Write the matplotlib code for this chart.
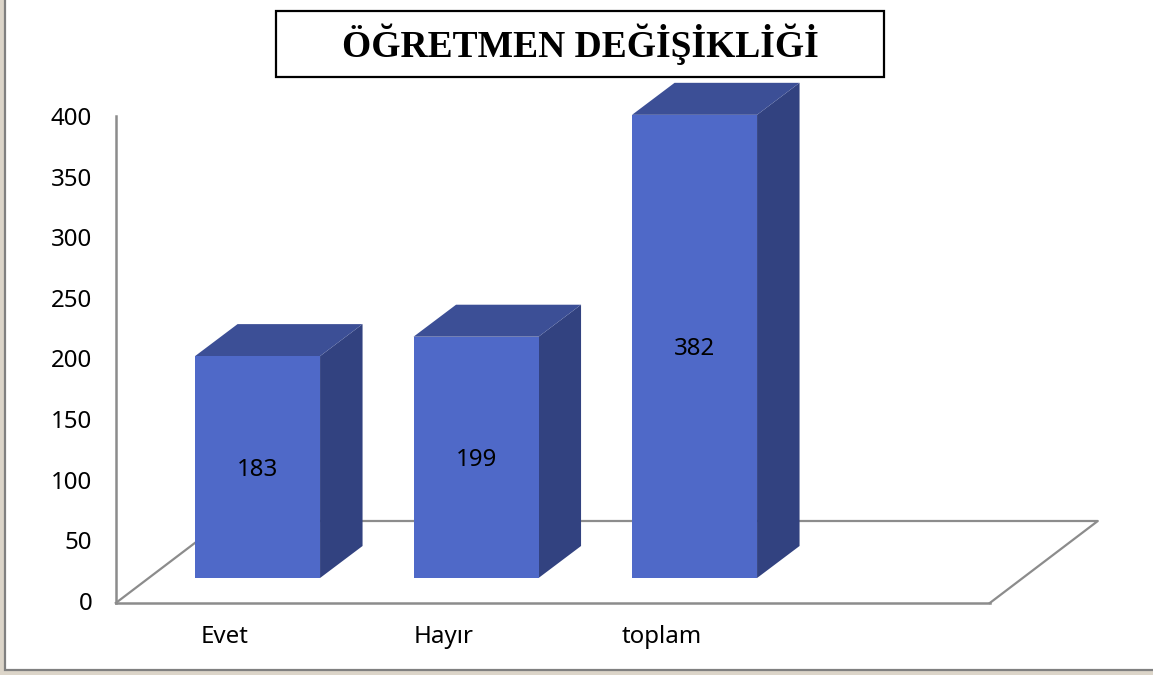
import matplotlib
matplotlib.use("Agg")
import matplotlib.pyplot as plt
from matplotlib.patches import Polygon, Rectangle

categories = ["Evet", "Hayır", "toplam"]
values = [183, 199, 382]
y_ticks = [0, 50, 100, 150, 200, 250, 300, 350, 400]
title = "ÖĞRETMEN DEĞİŞİKLİĞİ"

W, H = 1153, 675
GRAY = "#8c8c8c"
FRONT, SIDE, TOP = "#4f69c8", "#324280", "#3c4f96"

fig = plt.figure(figsize=(W / 100, H / 100), dpi=100, facecolor="#dcd5c9")
fig.add_artist(Rectangle((5 / W, 1 - 670 / H), 1.1, 1.1, transform=fig.transFigure,
                         facecolor="white", edgecolor="#808080", linewidth=1.6, zorder=-1))

L, R, T, B = 115.8, 989.8, 116, 603
SCALE = 1.2125  # pixels per value unit
ymin = -2 / SCALE
ax = fig.add_axes([L / W, 1 - B / H, (R - L) / W, (B - T) / H])
ax.set_xlim(-0.5, 3.5)
ax.set_ylim(ymin, 400)
ax.patch.set_alpha(0)
px_x = 4 / (R - L)
px_y = 1 / SCALE

for s in ("top", "right"):
    ax.spines[s].set_visible(False)
for s in ("left", "bottom"):
    ax.spines[s].set_color(GRAY)
    ax.spines[s].set_linewidth(1.8)

ax.set_yticks(y_ticks)
ax.set_xticks(range(len(categories)))
ax.set_xticklabels(categories)
ax.tick_params(axis="both", length=0, labelsize=17.3, labelcolor="black")
ax.tick_params(axis="y", pad=17)
ax.tick_params(axis="x", pad=16)
for lab in ax.get_xticklabels() + ax.get_yticklabels():
    lab.set_family("Noto Sans")

# floor
fx, fy = 108 * px_x, 82 * px_y
ax.plot([-0.5, -0.5 + fx, 3.5 + fx, 3.5], [ymin, ymin + fy, ymin + fy, ymin], color=GRAY, lw=1.6,
        clip_on=False, zorder=1, solid_joinstyle="round")

# bars
bw = 125 * px_x
dx, dy = 42.5 * px_x, 32 * px_y
base = 23 * px_y
off = 32.5 * px_x
for i, (v, c) in enumerate(zip(values, categories)):
    x0 = i + off - bw / 2
    x1 = x0 + bw
    y0 = base
    y1 = base + v
    ax.add_patch(Polygon([(x1, y0), (x1 + dx, y0 + dy), (x1 + dx, y1 + dy), (x1, y1)],
                         facecolor=SIDE, edgecolor="none", clip_on=False, zorder=3))
    ax.add_patch(Polygon([(x0, y1), (x1, y1), (x1 + dx, y1 + dy), (x0 + dx, y1 + dy)],
                         facecolor=TOP, edgecolor="none", clip_on=False, zorder=3))
    ax.add_patch(Rectangle((x0, y0), bw, v, facecolor=FRONT, edgecolor="none",
                           clip_on=False, zorder=4))
    ax.text(i + off, y0 + v / 2, str(v), ha="center", va="center_baseline", fontsize=17.3,
            family="Noto Sans", color="black", zorder=5)

# title box
fig.add_artist(Rectangle((276 / W, 1 - 77 / H), 608 / W, 66 / H, transform=fig.transFigure,
                         facecolor="white", edgecolor="black", linewidth=1.6, zorder=6))
fig.text(580 / W, 1 - 44 / H, title, ha="center", va="center", fontsize=27,
         family="Liberation Serif", weight="bold", color="black", zorder=7)

fig.savefig("out.png", dpi=100, facecolor=fig.get_facecolor())
